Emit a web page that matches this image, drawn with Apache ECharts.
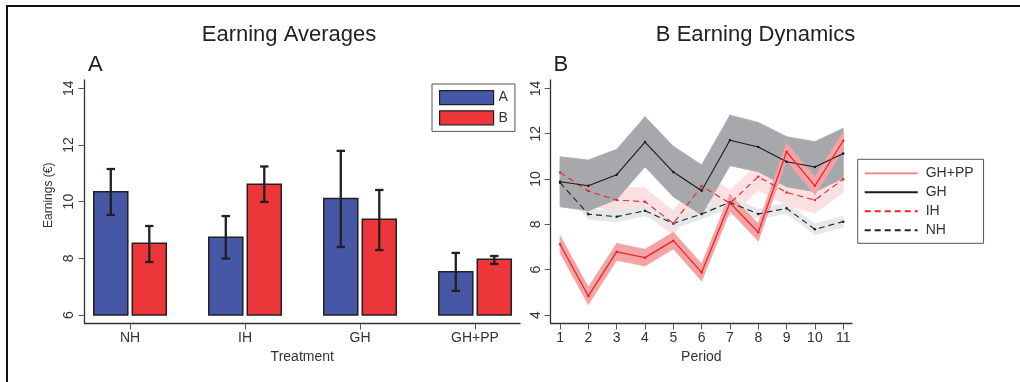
<!DOCTYPE html>
<html>
<head>
<meta charset="utf-8">
<script src="https://cdn.jsdelivr.net/npm/echarts@6/dist/echarts.min.js"></script>
<style>
  html, body { margin: 0; padding: 0; background: #fff; }
  #chart { width: 1020px; height: 382px; }
</style>
</head>
<body>
<div id="chart"></div>
<script>
// ---- panel A: earning averages ----
const treatments = ["NH", "IH", "GH", "GH+PP"]
const meanA = [10.35, 8.74, 10.11, 7.53]
const lowA = [9.53, 7.99, 8.40, 6.85]
const highA = [11.15, 9.49, 11.79, 8.19]
const meanB = [8.53, 10.61, 9.38, 7.97]
const lowB = [7.87, 9.99, 8.29, 7.80]
const highB = [9.14, 11.24, 10.41, 8.08]
const ticksA = [6, 8, 10, 12, 14]
const barBase = 6

// ---- panel B: earning dynamics ----
const periods = [1, 2, 3, 4, 5, 6, 7, 8, 9, 10, 11]
const ghpp = [7.12, 4.84, 6.79, 6.53, 7.28, 5.88, 8.95, 7.65, 11.20, 9.70, 11.69]
const ghppLow = [6.74, 4.46, 6.42, 6.16, 6.92, 5.50, 8.58, 7.27, 10.82, 9.32, 11.30]
const ghppHigh = [7.50, 5.22, 7.16, 6.90, 7.65, 6.26, 9.32, 8.03, 11.58, 10.08, 12.08]
const gh = [9.88, 9.70, 10.19, 11.63, 10.31, 9.48, 11.71, 11.41, 10.76, 10.53, 11.13]
const ghLow = [8.78, 8.60, 9.10, 10.54, 9.22, 8.41, 10.59, 10.32, 9.66, 9.44, 10.03]
const ghHigh = [10.98, 10.84, 11.31, 12.75, 11.45, 10.62, 12.82, 12.50, 11.87, 11.65, 12.24]
const ih = [10.29, 9.47, 9.07, 9.00, 8.04, 9.69, 8.93, 10.10, 9.41, 9.07, 9.99]
const ihLow = [9.70, 8.90, 8.48, 8.45, 7.55, 9.10, 8.35, 9.50, 8.85, 8.49, 9.42]
const ihHigh = [10.88, 10.05, 9.65, 9.60, 8.60, 10.25, 9.50, 10.68, 10.00, 9.65, 10.58]
const nh = [9.84, 8.45, 8.34, 8.60, 8.04, 8.46, 8.97, 8.46, 8.71, 7.78, 8.12]
const nhLow = [9.62, 8.22, 8.11, 8.38, 7.82, 8.24, 8.75, 8.24, 8.49, 7.54, 7.88]
const nhHigh = [10.06, 8.68, 8.57, 8.82, 8.26, 8.68, 9.19, 8.68, 8.93, 8.02, 8.36]
const ticksB = [4, 6, 8, 10, 12, 14]

const FONT = "'Liberation Sans', Arial, sans-serif"
const BLUE = "#4657a6"
const RED = "#ed3639"
const INK = "#231f20"
const AXIS = "#333"

const chart = echarts.init(document.getElementById("chart"), null, { renderer: "canvas" })

function barSeries(name, offset, color, mean, low, high) {
  return {
    type: "custom",
    name,
    xAxisIndex: 0,
    yAxisIndex: 0,
    itemStyle: { color },
    data: treatments.map((t, i) => [i + 1, mean[i], low[i], high[i]]),
    renderItem: (params, api) => {
      const x = api.value(0)
      const top = api.coord([x, api.value(1)])
      const base = api.coord([x, barBase])
      const lo = api.coord([x, api.value(2)])
      const hi = api.coord([x, api.value(3)])
      const cx = top[0] + offset
      const w = 34
      const err = { stroke: INK, lineWidth: 2.3 }
      return {
        type: "group",
        children: [
          { type: "rect", shape: { x: cx - w / 2, y: top[1], width: w, height: base[1] - top[1] }, style: { fill: color, stroke: INK, lineWidth: 1.5 } },
          { type: "line", shape: { x1: cx, y1: lo[1], x2: cx, y2: hi[1] }, style: err },
          { type: "line", shape: { x1: cx - 4.2, y1: lo[1], x2: cx + 4.2, y2: lo[1] }, style: err },
          { type: "line", shape: { x1: cx - 4.2, y1: hi[1], x2: cx + 4.2, y2: hi[1] }, style: err }
        ]
      }
    }
  }
}

function bandSeries(name, low, high, color) {
  return {
    type: "custom",
    name,
    xAxisIndex: 1,
    yAxisIndex: 1,
    silent: true,
    data: periods.map((p, i) => [p, low[i], high[i]]),
    renderItem: (params, api) => {
      const i = params.dataIndex
      if (i >= periods.length - 1) return null
      const pts = [
        api.coord([periods[i], low[i]]),
        api.coord([periods[i + 1], low[i + 1]]),
        api.coord([periods[i + 1], high[i + 1]]),
        api.coord([periods[i], high[i]])
      ]
      return { type: "polygon", shape: { points: pts }, style: { fill: color, stroke: color, lineWidth: 0.8 } }
    }
  }
}

function lineSeries(name, values, color, dashed, width) {
  return {
    type: "line",
    name,
    xAxisIndex: 1,
    yAxisIndex: 1,
    data: periods.map((p, i) => [p, values[i]]),
    symbol: "circle",
    symbolSize: 2.5,
    showSymbol: true,
    itemStyle: { color },
    lineStyle: { color, width, type: dashed ? [6, 4] : "solid" },
    z: 5
  }
}

const valueAxisCommon = {
  type: "value",
  axisLine: { show: true, lineStyle: { color: AXIS, width: 1.3 } },
  splitLine: { show: false },
  nameTextStyle: { fontFamily: FONT, color: AXIS, fontSize: 14 }
}

const option = {
  animation: false,
  textStyle: { fontFamily: FONT },
  grid: [
    { left: 84.5, top: 80, width: 435.5, height: 243.5 },
    { left: 550.7, top: 80, width: 301.3, height: 243.5 }
  ],
  xAxis: [
    {
      ...valueAxisCommon,
      gridIndex: 0,
      min: 0.604,
      max: 4.391,
      axisTick: { show: true, customValues: [1, 2, 3, 4], length: 6, lineStyle: { color: "#555" } },
      axisLabel: { customValues: [1, 2, 3, 4], formatter: v => treatments[Math.round(v) - 1], fontSize: 14, color: AXIS, margin: 8 },
      name: "Treatment",
      nameLocation: "middle",
      nameGap: 23
    },
    {
      ...valueAxisCommon,
      gridIndex: 1,
      min: 0.67,
      max: 11.31,
      axisTick: { show: true, customValues: periods, length: 6, lineStyle: { color: "#555" } },
      axisLabel: { customValues: periods, fontSize: 14, color: AXIS, margin: 8 },
      name: "Period",
      nameLocation: "middle",
      nameGap: 23
    }
  ],
  yAxis: [
    {
      ...valueAxisCommon,
      gridIndex: 0,
      min: 5.7,
      max: 14.29,
      axisTick: { show: true, customValues: ticksA, length: 6, lineStyle: { color: "#555" } },
      axisLabel: { customValues: ticksA, rotate: 90, fontSize: 14, color: AXIS, margin: 8 },
      name: "Earnings (€)",
      nameLocation: "middle",
      nameGap: 30,
      nameTextStyle: { fontFamily: FONT, color: AXIS, fontSize: 12, padding: [0, 0, 0, 13] }
    },
    {
      ...valueAxisCommon,
      gridIndex: 1,
      min: 3.625,
      max: 14.37,
      axisTick: { show: true, customValues: ticksB, length: 6, lineStyle: { color: "#555" } },
      axisLabel: { customValues: ticksB, rotate: 90, fontSize: 14, color: AXIS, margin: 8 }
    }
  ],
  legend: [
    {
      left: 432,
      top: 84,
      orient: "vertical",
      padding: [6, 7, 6, 7],
      itemGap: 5,
      itemWidth: 54,
      itemHeight: 14,
      borderColor: "#555",
      borderWidth: 1,
      backgroundColor: "#fff",
      selectedMode: false,
      textStyle: { fontSize: 14, color: AXIS },
      data: [
        { name: "A", icon: "rect", itemStyle: { color: BLUE, borderColor: INK, borderWidth: 1.2 } },
        { name: "B", icon: "rect", itemStyle: { color: RED, borderColor: INK, borderWidth: 1.2 } }
      ]
    },
    {
      left: 857.7,
      top: 159.3,
      orient: "vertical",
      padding: [7, 10, 6, 6],
      itemGap: 5,
      itemWidth: 53,
      itemHeight: 14,
      borderColor: "#555",
      borderWidth: 1,
      backgroundColor: "#fff",
      selectedMode: false,
      itemStyle: { opacity: 0 },
      textStyle: { fontSize: 14, color: AXIS, padding: [0, 0, 0, 3] },
      data: [
        { name: "GH+PP", lineStyle: { color: "#f07c80", width: 1.8 } },
        "GH",
        "IH",
        "NH"
      ]
    }
  ],
  graphic: [
    { type: "line", shape: { x1: 6, y1: 6, x2: 1020, y2: 6 }, style: { stroke: "#111", lineWidth: 2 } },
    { type: "line", shape: { x1: 7, y1: 5, x2: 7, y2: 382 }, style: { stroke: "#111", lineWidth: 2 } },
    { type: "text", x: 289, y: 34.7, style: { text: "Earning Averages", font: "22px " + FONT, fill: "#222", align: "center", verticalAlign: "middle" } },
    { type: "text", x: 755.5, y: 34.7, style: { text: "B Earning Dynamics", font: "22px " + FONT, fill: "#222", align: "center", verticalAlign: "middle" } },
    { type: "text", x: 88, y: 64.5, style: { text: "A", font: "22px " + FONT, fill: "#222", align: "left", verticalAlign: "middle" } },
    { type: "text", x: 553.5, y: 64.5, style: { text: "B", font: "22px " + FONT, fill: "#222", align: "left", verticalAlign: "middle" } }
  ],
  series: [
    barSeries("A", -19.25, BLUE, meanA, lowA, highA),
    barSeries("B", 19.25, RED, meanB, lowB, highB),
    bandSeries("IH band", ihLow, ihHigh, "#fbe0e1"),
    bandSeries("NH band", nhLow, nhHigh, "#e6e7e8"),
    bandSeries("GH band", ghLow, ghHigh, "#a7a8ab"),
    bandSeries("GH+PP band", ghppLow, ghppHigh, "#f4a3a5"),
    lineSeries("NH", nh, "#222", true, 1.1),
    lineSeries("IH", ih, "#e8262b", true, 1.1),
    lineSeries("GH", gh, "#1a1a1a", false, 1.1),
    lineSeries("GH+PP", ghpp, "#e8262b", false, 1.3)
  ]
}

chart.setOption(option)
window.addEventListener("resize", () => chart.resize())
</script>
</body>
</html>
